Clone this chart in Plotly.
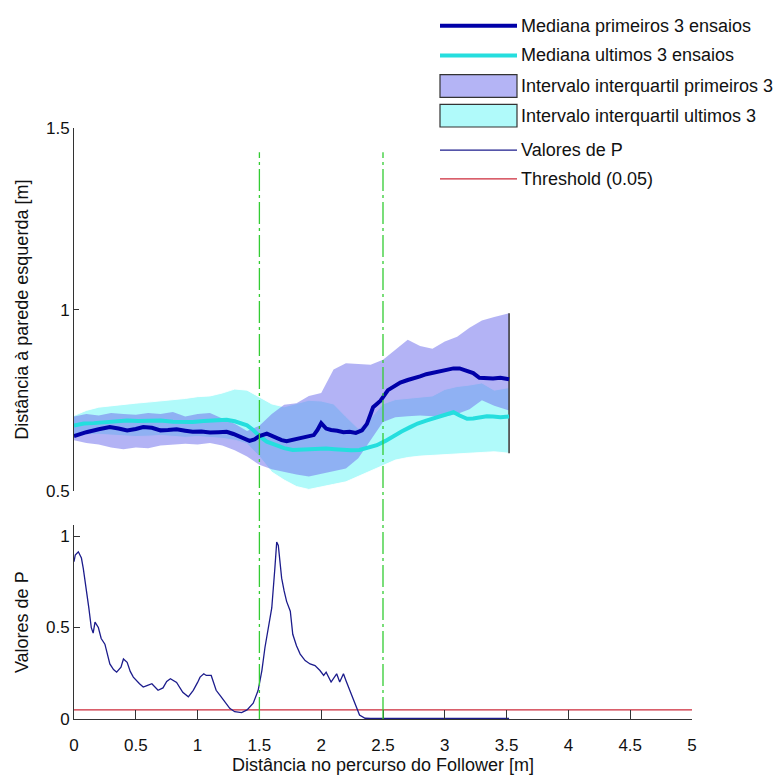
import plotly.graph_objects as go

# ---------------- data ----------------
x_med_primeiros = [0, 0.1, 0.2, 0.29, 0.36, 0.43, 0.5, 0.56, 0.63, 0.70, 0.76, 0.83, 0.9, 0.96,
                   1.03, 1.10, 1.17, 1.235, 1.29, 1.34, 1.38, 1.42, 1.46, 1.50, 1.56, 1.60, 1.64,
                   1.68, 1.72, 1.78, 1.83, 1.88, 1.94, 1.97, 2.00, 2.04, 2.08, 2.13, 2.18, 2.23,
                   2.28, 2.33, 2.37, 2.40, 2.42, 2.45, 2.48, 2.54, 2.59, 2.64, 2.70, 2.75, 2.80,
                   2.85, 2.90, 2.96, 3.02, 3.07, 3.12, 3.18, 3.23, 3.28, 3.33, 3.39, 3.45, 3.52]
med_primeiros = [0.651, 0.662, 0.670, 0.676, 0.672, 0.667, 0.671, 0.676, 0.674, 0.667, 0.668,
                 0.670, 0.666, 0.663, 0.664, 0.661, 0.662, 0.663, 0.657, 0.649, 0.644, 0.638,
                 0.642, 0.651, 0.658, 0.652, 0.644, 0.640, 0.637, 0.642, 0.647, 0.650, 0.654,
                 0.668, 0.687, 0.672, 0.668, 0.666, 0.662, 0.663, 0.660, 0.667, 0.685, 0.712,
                 0.731, 0.740, 0.749, 0.778, 0.790, 0.799, 0.806, 0.810, 0.816, 0.822, 0.826,
                 0.831, 0.835, 0.838, 0.838, 0.832, 0.825, 0.812, 0.810, 0.810, 0.812, 0.808]

x_med_ultimos = [0, 0.08, 0.16, 0.25, 0.35, 0.43, 0.52, 0.6, 0.7, 0.8, 0.9, 0.96, 1.05, 1.15,
                 1.235, 1.30, 1.36, 1.40, 1.45, 1.50, 1.56, 1.64, 1.70, 1.77, 1.84, 1.91, 1.97,
                 2.04, 2.11, 2.18, 2.24, 2.31, 2.38, 2.45, 2.52, 2.58, 2.65, 2.72, 2.78, 2.85,
                 2.92, 2.99, 3.03, 3.07, 3.12, 3.18, 3.23, 3.28, 3.34, 3.39, 3.45, 3.52]
med_ultimos = [0.680, 0.686, 0.687, 0.690, 0.694, 0.694, 0.693, 0.694, 0.694, 0.691, 0.690,
               0.690, 0.693, 0.696, 0.696, 0.692, 0.686, 0.681, 0.668, 0.651, 0.636, 0.626,
               0.618, 0.613, 0.614, 0.617, 0.617, 0.617, 0.615, 0.613, 0.612, 0.613, 0.619,
               0.626, 0.638, 0.651, 0.664, 0.676, 0.686, 0.694, 0.701, 0.708, 0.712, 0.717,
               0.708, 0.699, 0.700, 0.703, 0.706, 0.705, 0.703, 0.705]

x_iqr = [0, 0.1, 0.2, 0.3, 0.4, 0.5, 0.6, 0.7, 0.8, 0.9, 1.0, 1.1, 1.2, 1.3, 1.4, 1.5, 1.6, 1.7,
         1.8, 1.9, 2.0, 2.1, 2.2, 2.3, 2.4, 2.5, 2.6, 2.7, 2.8, 2.9, 3.0, 3.1, 3.2, 3.3, 3.4, 3.52]
iqr_primeiros_sup = [0.705, 0.712, 0.708, 0.715, 0.712, 0.710, 0.715, 0.712, 0.718, 0.705, 0.712,
                     0.715, 0.700, 0.685, 0.665, 0.680, 0.712, 0.738, 0.742, 0.762, 0.770, 0.835,
                     0.852, 0.850, 0.848, 0.862, 0.890, 0.917, 0.900, 0.892, 0.912, 0.925, 0.950,
                     0.970, 0.980, 0.990]
iqr_primeiros_inf = [0.640, 0.632, 0.628, 0.620, 0.615, 0.620, 0.618, 0.625, 0.628, 0.630, 0.628,
                     0.632, 0.625, 0.612, 0.595, 0.572, 0.560, 0.552, 0.545, 0.540, 0.548, 0.555,
                     0.562, 0.590, 0.640, 0.690, 0.703, 0.706, 0.708, 0.706, 0.705, 0.712, 0.725,
                     0.750, 0.735, 0.722]
iqr_ultimos_sup = [0.708, 0.722, 0.731, 0.735, 0.740, 0.742, 0.745, 0.748, 0.750, 0.755, 0.760,
                   0.762, 0.770, 0.781, 0.778, 0.760, 0.740, 0.732, 0.742, 0.750, 0.748, 0.740,
                   0.705, 0.672, 0.700, 0.740, 0.752, 0.755, 0.760, 0.762, 0.780, 0.788, 0.792,
                   0.798, 0.778, 0.785]
iqr_ultimos_inf = [0.651, 0.655, 0.656, 0.654, 0.652, 0.650, 0.651, 0.653, 0.650, 0.648, 0.650,
                   0.648, 0.645, 0.640, 0.630, 0.595, 0.552, 0.530, 0.512, 0.504, 0.510, 0.518,
                   0.525, 0.540, 0.555, 0.570, 0.585, 0.592, 0.596, 0.599, 0.600, 0.602, 0.604,
                   0.606, 0.608, 0.604]

x_p = [0.0, 0.01, 0.035, 0.06, 0.075, 0.10, 0.12, 0.14, 0.155, 0.17, 0.197, 0.22, 0.25, 0.29,
       0.32, 0.345, 0.38, 0.40, 0.43, 0.455, 0.48, 0.53, 0.56, 0.59, 0.63, 0.68, 0.72, 0.75,
       0.78, 0.83, 0.88, 0.925, 0.965, 1.0, 1.02, 1.05, 1.07, 1.11, 1.15, 1.18, 1.21, 1.26,
       1.30, 1.356, 1.40, 1.45, 1.49, 1.52, 1.545, 1.57, 1.60, 1.625, 1.64, 1.653, 1.665, 1.68,
       1.70, 1.72, 1.75, 1.77, 1.80, 1.83, 1.87, 1.91, 1.95, 1.99, 2.02, 2.04, 2.08, 2.125,
       2.15, 2.18, 2.2, 2.25, 2.28, 2.31, 2.355, 2.40, 2.6, 2.8, 3.0, 3.2, 3.4, 3.52]
valores_p = [0.86, 0.896, 0.914, 0.88, 0.823, 0.715, 0.607, 0.499, 0.47, 0.53, 0.50, 0.44,
             0.409, 0.301, 0.27, 0.256, 0.283, 0.328, 0.31, 0.26, 0.229, 0.193, 0.175, 0.183,
             0.193, 0.157, 0.17, 0.205, 0.22, 0.2, 0.146, 0.121, 0.157, 0.2, 0.229, 0.247,
             0.238, 0.238, 0.157, 0.13, 0.103, 0.058, 0.04, 0.035, 0.05, 0.086, 0.157, 0.265,
             0.391, 0.49, 0.607, 0.823, 0.967, 0.949, 0.86, 0.77, 0.70, 0.643, 0.589, 0.463,
             0.40, 0.355, 0.319, 0.301, 0.292, 0.265, 0.238, 0.256, 0.202, 0.247, 0.202, 0.247,
             0.211, 0.121, 0.067, 0.022, 0.004, 0.003, 0.003, 0.003, 0.003, 0.003, 0.003, 0.003]

threshold = 0.05
x_lim = [0, 5]
marcos = [1.5, 2.5]
x_ticks = [0, 0.5, 1, 1.5, 2, 2.5, 3, 3.5, 4, 4.5, 5]
x_ticktext = ["0", "0.5", "1", "1.5", "2", "2.5", "3", "3.5", "4", "4.5", "5"]
y_ticks_top = [0.5, 1, 1.5]
y_ticks_bottom = [0, 0.5, 1]

# ---------------- style ----------------
W, H = 779, 775
ML, MR, MT, MB = 74, 87, 0, 56
PLOT_H = H - MT - MB
PLOT_W = W - ML - MR

FONT = "Liberation Sans, Arial, sans-serif"
C_MED_P = "#0000a8"
C_MED_U = "#25dede"
C_IQR_P = "rgba(117,117,237,0.55)"
C_IQR_U = "#b0fafa"
C_P = "#1c1c8c"
C_THR = "#cc2a3a"
C_MARCO = "#33cc33"
C_AXIS = "#333333"


def py(pix):
    """Pixel row (from top of the page) -> paper coordinate."""
    return (H - MB - pix) / PLOT_H


def px(pix):
    """Pixel column -> paper coordinate."""
    return (pix - ML) / PLOT_W


fig = go.Figure()

# interquartile bands (top panel)
fig.add_trace(go.Scatter(
    x=x_iqr + x_iqr[::-1], y=iqr_ultimos_sup + iqr_ultimos_inf[::-1],
    fill="toself", fillcolor=C_IQR_U, mode="lines",
    line=dict(color="rgba(255,255,255,0.9)", width=1),
    name="Intervalo interquartil ultimos 3", xaxis="x", yaxis="y"))
fig.add_trace(go.Scatter(
    x=x_iqr + x_iqr[::-1], y=iqr_primeiros_sup + iqr_primeiros_inf[::-1],
    fill="toself", fillcolor=C_IQR_P, mode="lines", line=dict(width=0),
    name="Intervalo interquartil primeiros 3", xaxis="x", yaxis="y"))

# closing edge of the bands
fig.add_trace(go.Scatter(
    x=[x_iqr[-1], x_iqr[-1]],
    y=[min(iqr_ultimos_inf[-1], iqr_primeiros_inf[-1]),
       max(iqr_ultimos_sup[-1], iqr_primeiros_sup[-1])],
    mode="lines", line=dict(color=C_AXIS, width=1.5), xaxis="x", yaxis="y"))

# medians
fig.add_trace(go.Scatter(x=x_med_ultimos, y=med_ultimos, mode="lines",
                         line=dict(color=C_MED_U, width=4),
                         name="Mediana ultimos 3 ensaios", xaxis="x", yaxis="y"))
fig.add_trace(go.Scatter(x=x_med_primeiros, y=med_primeiros, mode="lines",
                         line=dict(color=C_MED_P, width=4),
                         name="Mediana primeiros 3 ensaios", xaxis="x", yaxis="y"))

# P values (bottom panel)
fig.add_trace(go.Scatter(x=x_lim, y=[threshold, threshold], mode="lines",
                         line=dict(color=C_THR, width=1.3),
                         name="Threshold (0.05)", xaxis="x2", yaxis="y2"))
fig.add_trace(go.Scatter(x=x_p, y=valores_p, mode="lines",
                         line=dict(color=C_P, width=1.3),
                         name="Valores de P", xaxis="x2", yaxis="y2"))

axis_common = dict(
    showgrid=False, zeroline=False, showline=True, linecolor=C_AXIS, linewidth=1,
    ticks="inside", tickcolor=C_AXIS, tickfont=dict(family=FONT, size=17, color="#111"),
    mirror=False,
)

dom_top = [py(488), py(121)]
dom_bot = [0, py(523)]

fig.update_layout(
    width=W, height=H,
    margin=dict(l=ML, r=MR, t=MT, b=MB),
    paper_bgcolor="white", plot_bgcolor="white",
    showlegend=False,
    font=dict(family=FONT, size=18, color="#111"),
    xaxis=dict(domain=[0, 1], range=x_lim, visible=False, anchor="y"),
    yaxis=dict(domain=dom_top, range=[0.5, 1.5], tickvals=y_ticks_top,
               ticktext=["0.5", "1", "1.5"], ticklen=5, anchor="x",
               title=dict(text="Distância à parede esquerda [m]",
                          font=dict(family=FONT, size=18, color="#111"), standoff=12),
               **axis_common),
    xaxis2=dict(domain=[0, 1], range=x_lim, tickvals=x_ticks, ticktext=x_ticktext,
                ticklen=9, anchor="y2", ticklabelstandoff=11,
                title=dict(text="Distância no percurso do Follower [m]",
                           font=dict(family=FONT, size=18, color="#111"), standoff=3),
                **axis_common),
    yaxis2=dict(domain=dom_bot, range=[0, 1.058], tickvals=y_ticks_bottom,
                ticktext=["0", "0.5", "1"], ticklen=6, anchor="x2",
                title=dict(text="Valores de P",
                           font=dict(family=FONT, size=18, color="#111"), standoff=12),
                **axis_common),
)

# vertical markers spanning both panels
shapes = []
for m in marcos:
    shapes.append(dict(type="line", xref="x2", yref="paper", x0=m, x1=m,
                       y0=0, y1=py(145),
                       line=dict(color=C_MARCO, width=1.3, dash="22px,4px,3px,4px"),
                       layer="above"))

# legend drawn as swatches + text in the top-right corner
legend_items = [
    ("Mediana primeiros 3 ensaios", "line", C_MED_P, 4, 17),
    ("Mediana ultimos 3 ensaios", "line", C_MED_U, 4, 47),
    ("Intervalo interquartil primeiros 3", "rect", "#b4b4f5", 1, 78),
    ("Intervalo interquartil ultimos 3", "rect", C_IQR_U, 1, 108),
    ("Valores de P", "line", C_P, 1.3, 143),
    ("Threshold (0.05)", "line", C_THR, 1.3, 172),
]
annotations = []
for label, kind, color, width, row in legend_items:
    if kind == "line":
        shapes.append(dict(type="line", xref="paper", yref="paper",
                           x0=px(440), x1=px(517), y0=py(row), y1=py(row),
                           line=dict(color=color, width=width)))
    else:
        shapes.append(dict(type="rect", xref="paper", yref="paper",
                           x0=px(440), x1=px(517), y0=py(row + 11.5), y1=py(row - 11.5),
                           fillcolor=color, line=dict(color="#333", width=1.2)))
    annotations.append(dict(text=label, xref="paper", yref="paper",
                            x=px(519), y=py(row), xanchor="left", yanchor="middle",
                            showarrow=False, font=dict(family=FONT, size=18, color="#111")))

fig.update_layout(shapes=shapes, annotations=annotations)

fig.write_html("out.html")
